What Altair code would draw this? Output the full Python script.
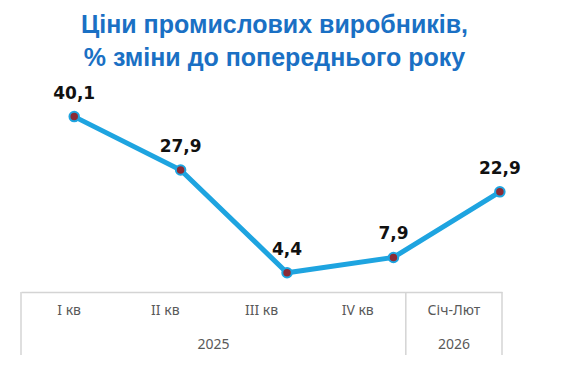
import altair as alt
import pandas as pd

categories = ["I кв", "II кв", "III кв", "IV кв", "Січ-Лют"]
values = [40.1, 27.9, 4.4, 7.9, 22.9]
years = ["2025", "2026"]
year_anchor = ["III кв", "Січ-Лют"]
year_band = [0.0, 0.5]

W = 481
H = 213
title_lines = ["Ціни промислових виробників,", "% зміни до попереднього року"]

line_df = pd.DataFrame({"cat": categories, "idx": list(range(len(categories))), "value": values})
cat_df = pd.DataFrame({"cat": categories})

xq = alt.X("idx:Q", scale=alt.Scale(domain=[-0.5, 4.02], nice=False, zero=False), axis=None)
yq = alt.Y("value:Q", scale=alt.Scale(domain=[0, 48.7], nice=False), axis=None)

base = alt.Chart(line_df).encode(x=xq, y=yq)
line = base.mark_line(color="#1ea4e0", strokeWidth=5)
pts = base.mark_point(filled=True, size=90, fill="#8b2a35", stroke="#1ea4e0", strokeWidth=2, opacity=1)
labels = base.transform_calculate(
    lab="replace(format(datum.value, '.1f'), '.', ',')"
).mark_text(dy=-23, font="DejaVu Sans", fontSize=17, fontWeight="bold", color="#111111").encode(text="lab:N")

xscale = alt.Scale(domain=categories, paddingInner=0, paddingOuter=0)
axis_def = alt.Axis(title=None, orient="bottom", domainColor="#d4d4d4", domainWidth=1.5,
                    ticks=False, grid=False, labelFont="Noto Sans", labelFontSize=14,
                    labelColor="#595959", labelPadding=11, labelAngle=0)

axis_layer = alt.Chart(cat_df).mark_rule(opacity=0).encode(
    x=alt.X("cat:N", scale=xscale, axis=axis_def, sort=categories),
    y=alt.value(H), y2=alt.value(H)
)
edge_left = alt.Chart(pd.DataFrame({"cat": ["I кв", "Січ-Лют"]})).mark_rule(color="#d4d4d4", strokeWidth=1.5).encode(
    x=alt.X("cat:N", scale=xscale, axis=axis_def, bandPosition=0, sort=categories),
    y=alt.value(H), y2=alt.value(H + 63)
)
edge_right = alt.Chart(pd.DataFrame({"cat": ["Січ-Лют"]})).mark_rule(color="#d4d4d4", strokeWidth=1.5).encode(
    x=alt.X("cat:N", scale=xscale, axis=axis_def, bandPosition=1, sort=categories),
    y=alt.value(H), y2=alt.value(H + 63)
)
year_layers = []
for yr, anc, bp in zip(years, year_anchor, year_band):
    year_layers.append(
        alt.Chart(pd.DataFrame({"cat": [anc], "year": [yr]})).mark_text(
            font="Noto Sans", fontSize=14, color="#595959", baseline="middle"
        ).encode(
            x=alt.X("cat:N", scale=xscale, axis=axis_def, bandPosition=bp, sort=categories),
            y=alt.value(H + 53), text="year:N"
        )
    )

axis_group = alt.layer(axis_layer, edge_left, edge_right, *year_layers)

chart = alt.layer(axis_group, line + pts + labels).resolve_scale(x="independent").properties(
    width=W, height=H,
    padding={"left": 12, "top": 5, "right": 5, "bottom": 5},
    title=alt.TitleParams(
        text=title_lines, font="Liberation Sans", fontSize=25, fontWeight="bold",
        color="#1a70c4", lineHeight=33, anchor="middle", dx=13, offset=8
    )
).configure_view(stroke=None)

chart.save("out.html", embed_options={"renderer": "svg", "actions": False})
